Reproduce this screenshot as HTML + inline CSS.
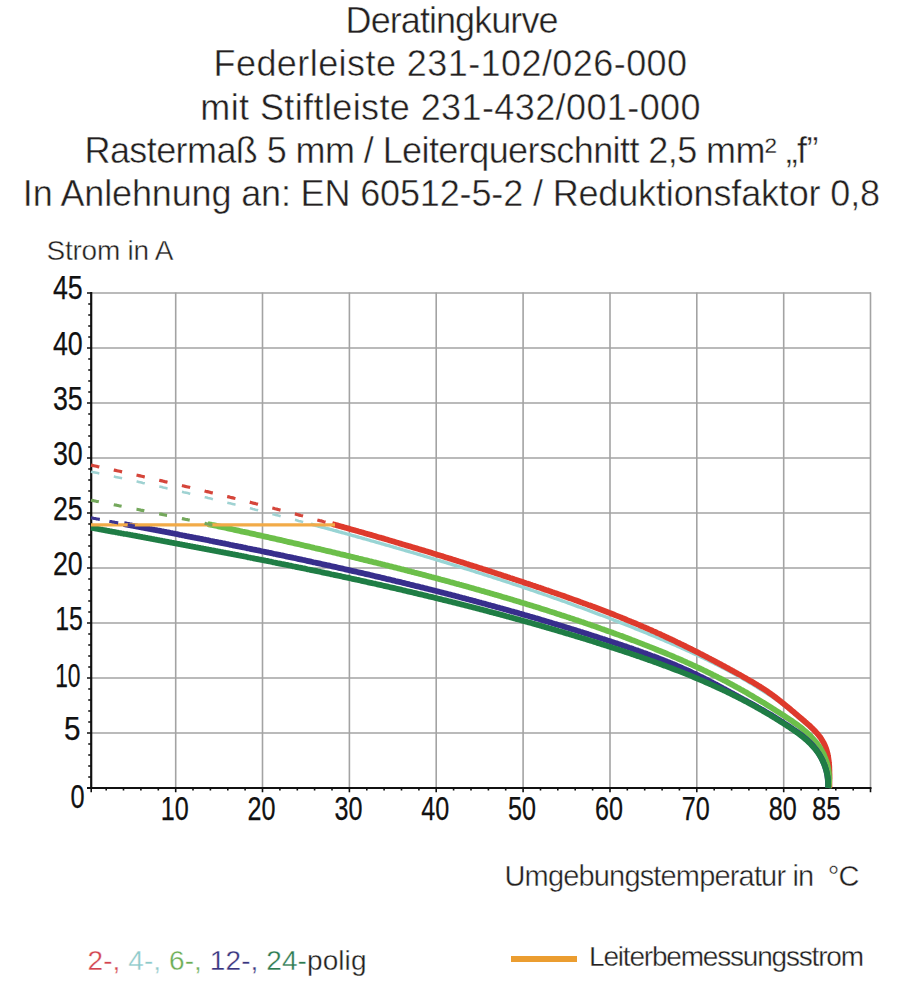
<!DOCTYPE html><html><head><meta charset="utf-8"><style>html,body{margin:0;padding:0;background:#fff;width:903px;height:1000px;overflow:hidden}svg{display:block}text{font-family:"Liberation Sans",sans-serif}</style></head><body>
<svg width="903" height="1000" viewBox="0 0 903 1000">
<g fill="#231f20" stroke="#fff" stroke-width="0.45" font-size="36">
<text x="345.6" y="33.2" textLength="212.9" lengthAdjust="spacing">Deratingkurve</text>
<text x="213.5" y="76.4" textLength="473.6" lengthAdjust="spacing">Federleiste 231-102/026-000</text>
<text x="200.3" y="119.5" textLength="500.2" lengthAdjust="spacing">mit Stiftleiste 231-432/001-000</text>
<text x="84.5" y="162.7" textLength="734.0" lengthAdjust="spacing">Rastermaß 5 mm / Leiterquerschnitt 2,5 mm² „f”</text>
<text x="22.8" y="205.9" textLength="857.3" lengthAdjust="spacing">In Anlehnung an: EN 60512-5-2 / Reduktionsfaktor 0,8</text>
</g>
<text x="46.5" y="259.9" font-size="28" fill="#231f20" stroke="#fff" stroke-width="0.4" textLength="127" lengthAdjust="spacing">Strom in A</text>
<g stroke="#a3a3a3" stroke-width="1.6" fill="none">
<line x1="91" y1="733.0" x2="871" y2="733.0"/>
<line x1="91" y1="678.0" x2="871" y2="678.0"/>
<line x1="91" y1="623.0" x2="871" y2="623.0"/>
<line x1="91" y1="568.0" x2="871" y2="568.0"/>
<line x1="91" y1="513.0" x2="871" y2="513.0"/>
<line x1="91" y1="458.0" x2="871" y2="458.0"/>
<line x1="91" y1="403.0" x2="871" y2="403.0"/>
<line x1="91" y1="348.0" x2="871" y2="348.0"/>
<line x1="91" y1="293.0" x2="871" y2="293.0"/>
<line x1="175.7" y1="292.6" x2="175.7" y2="788"/>
<line x1="262.5" y1="292.6" x2="262.5" y2="788"/>
<line x1="349.4" y1="292.6" x2="349.4" y2="788"/>
<line x1="436.2" y1="292.6" x2="436.2" y2="788"/>
<line x1="523.1" y1="292.6" x2="523.1" y2="788"/>
<line x1="610.0" y1="292.6" x2="610.0" y2="788"/>
<line x1="696.8" y1="292.6" x2="696.8" y2="788"/>
<line x1="783.7" y1="292.6" x2="783.7" y2="788"/>
<line x1="870.5" y1="292.6" x2="870.5" y2="788"/>
</g>
<g stroke="#111" fill="none">
<line x1="91.2" y1="292" x2="91.2" y2="789" stroke-width="2.2"/>
<line x1="87" y1="788" x2="871.5" y2="788" stroke-width="2.2"/>
<path d="M87.0,788.0H91.2M88.2,777.0H91.2M88.2,766.0H91.2M88.2,755.0H91.2M88.2,744.0H91.2M87.0,733.0H91.2M88.2,722.0H91.2M88.2,711.0H91.2M88.2,700.0H91.2M88.2,689.0H91.2M87.0,678.0H91.2M88.2,667.0H91.2M88.2,656.0H91.2M88.2,645.0H91.2M88.2,634.0H91.2M87.0,623.0H91.2M88.2,612.0H91.2M88.2,601.0H91.2M88.2,590.0H91.2M88.2,579.0H91.2M87.0,568.0H91.2M88.2,557.0H91.2M88.2,546.0H91.2M88.2,535.0H91.2M88.2,524.0H91.2M87.0,513.0H91.2M88.2,502.0H91.2M88.2,491.0H91.2M88.2,480.0H91.2M88.2,469.0H91.2M87.0,458.0H91.2M88.2,447.0H91.2M88.2,436.0H91.2M88.2,425.0H91.2M88.2,414.0H91.2M87.0,403.0H91.2M88.2,392.0H91.2M88.2,381.0H91.2M88.2,370.0H91.2M88.2,359.0H91.2M87.0,348.0H91.2M88.2,337.0H91.2M88.2,326.0H91.2M88.2,315.0H91.2M88.2,304.0H91.2M87.0,293.0H91.2M91.2,788V792.2M106.2,788V790.6M123.5,788V790.6M140.9,788V790.6M158.3,788V790.6M175.7,788V792.2M193.0,788V790.6M210.4,788V790.6M227.8,788V790.6M245.1,788V790.6M262.5,788V792.2M279.9,788V790.6M297.3,788V790.6M314.6,788V790.6M332.0,788V790.6M349.4,788V792.2M366.8,788V790.6M384.1,788V790.6M401.5,788V790.6M418.9,788V790.6M436.2,788V792.2M453.6,788V790.6M471.0,788V790.6M488.4,788V790.6M505.7,788V790.6M523.1,788V792.2M540.5,788V790.6M557.8,788V790.6M575.2,788V790.6M592.6,788V790.6M610.0,788V792.2M627.3,788V790.6M644.7,788V790.6M662.1,788V790.6M679.4,788V790.6M696.8,788V792.2M714.2,788V790.6M731.6,788V790.6M748.9,788V790.6M766.3,788V790.6M783.7,788V792.2M801.1,788V790.6M818.4,788V790.6M835.8,788V790.6M853.2,788V790.6M870.5,788V792.2" stroke-width="1.6"/>
</g>
<g fill="none" stroke-linecap="butt" stroke-linejoin="round">
<path d="M310.5,524.0L310.8,524.1L312.1,524.4L313.5,524.8L314.8,525.2L316.2,525.5L317.5,525.9L318.9,526.3L320.2,526.6L321.6,527.0L322.9,527.3L324.3,527.7L325.6,528.1L327.0,528.4L328.3,528.8L329.6,529.2L331.0,529.5L332.3,529.9L333.7,530.3L335.0,530.6L336.4,531.0L337.7,531.4L339.1,531.8L340.4,532.1L341.8,532.5L343.1,532.9L344.4,533.2L345.8,533.6L347.1,534.0L348.5,534.4L349.8,534.7L351.2,535.1L352.5,535.5L353.9,535.8L355.2,536.2L356.5,536.6L357.9,537.0L359.2,537.4L360.6,537.7L361.9,538.1L363.3,538.5L364.6,538.9L365.9,539.2L367.3,539.6L368.6,540.0L370.0,540.4L371.3,540.8L372.7,541.1L374.0,541.5L375.3,541.9L376.7,542.3L378.0,542.7L379.4,543.0L380.7,543.4L382.0,543.8L383.4,544.2L384.7,544.6L386.1,545.0L387.4,545.3L388.8,545.7L390.1,546.1L391.4,546.5L392.8,546.9L394.1,547.3L395.5,547.7L396.8,548.1L398.1,548.4L399.5,548.8L400.8,549.2L402.2,549.6L403.5,550.0L404.8,550.4L406.2,550.8L407.5,551.2L408.9,551.6L410.2,552.0L411.5,552.4L412.9,552.7L414.2,553.1L415.5,553.5L416.9,553.9L418.2,554.3L419.6,554.7L420.9,555.1L422.2,555.5L423.6,555.9L424.9,556.3L426.2,556.7L427.6,557.1L428.9,557.5L430.3,557.9L431.6,558.3L432.9,558.7L434.3,559.1L435.6,559.5L436.9,559.9L438.3,560.3L439.6,560.7L440.9,561.1L442.3,561.5L443.6,561.9L445.0,562.3L446.3,562.7L447.6,563.2L449.0,563.6L450.3,564.0L451.6,564.4L453.0,564.8L454.3,565.2L455.6,565.6L457.0,566.0L458.3,566.4L459.6,566.8L461.0,567.3L462.3,567.7L463.6,568.1L465.0,568.5L466.3,568.9L467.6,569.3L468.9,569.7L470.3,570.2L471.6,570.6L472.9,571.0L474.3,571.4L475.6,571.8L476.9,572.3L478.3,572.7L479.6,573.1L480.9,573.5L482.3,573.9L483.6,574.4L484.9,574.8L486.2,575.2L487.6,575.6L488.9,576.1L490.2,576.5L491.6,576.9L492.9,577.3L494.2,577.8L495.5,578.2L496.9,578.6L498.2,579.1L499.5,579.5L500.8,579.9L502.2,580.4L503.5,580.8L504.8,581.2L506.1,581.7L507.5,582.1L508.8,582.5L510.1,583.0L511.4,583.4L512.8,583.8L514.1,584.3L515.4,584.7L516.7,585.2L518.1,585.6L519.4,586.0L520.7,586.5L522.0,586.9L523.4,587.4L524.7,587.8L526.0,588.3L527.3,588.7L528.6,589.2L530.0,589.6L531.3,590.1L532.6,590.5L533.9,591.0L535.2,591.4L536.6,591.9L537.9,592.3L539.2,592.8L540.5,593.2L541.8,593.7L543.2,594.1L544.5,594.6L545.8,595.0L547.1,595.5L548.4,596.0L549.7,596.4L551.1,596.9L552.4,597.4L553.7,597.8L555.0,598.3L556.3,598.7L557.6,599.2L558.9,599.7L560.3,600.1L561.6,600.6L562.9,601.1L564.2,601.5L565.5,602.0L566.8,602.5L568.1,603.0L569.5,603.4L570.8,603.9L572.1,604.4L573.4,604.9L574.7,605.3L576.0,605.8L577.3,606.3L578.6,606.8L579.9,607.2L581.2,607.7L582.6,608.2L583.9,608.7L585.2,609.2L586.5,609.7L587.8,610.1L589.1,610.6L590.4,611.1L591.7,611.6L593.0,612.1L594.3,612.6L595.6,613.1L596.9,613.6L598.2,614.1L599.5,614.6L600.9,615.1L602.2,615.5L603.5,616.0L604.8,616.5L606.1,617.0L607.4,617.5L608.7,618.0L610.0,618.5L611.3,619.0L612.6,619.5L613.9,620.1L615.2,620.6L616.5,621.1L617.8,621.6L619.1,622.1L620.4,622.6L621.7,623.1L623.0,623.6L624.3,624.1L625.6,624.6L626.9,625.2L628.2,625.7L629.5,626.2L630.8,626.7L632.1,627.2L633.3,627.7L634.6,628.3L635.9,628.8L637.2,629.3L638.5,629.8L639.8,630.4L641.1,630.9L642.4,631.4L643.7,631.9L645.0,632.5L646.3,633.0L647.6,633.5L648.9,634.1L650.2,634.6L651.4,635.1L652.7,635.7L654.0,636.2L655.3,636.7L656.6,637.3L657.9,637.8L659.2,638.4L660.5,638.9L661.7,639.5L663.0,640.0L664.3,640.5L665.6,641.1L666.9,641.6L668.2,642.2L669.5,642.7L670.7,643.3L672.0,643.9L673.3,644.4L674.6,645.0L675.9,645.5L677.1,646.1L678.4,646.7L679.7,647.2L681.0,647.8L682.2,648.4L683.5,648.9L684.8,649.5L686.1,650.1L687.3,650.7L688.6,651.2L689.9,651.8L691.1,652.4L692.4,653.0L693.7,653.6L694.9,654.2L696.2,654.7L697.5,655.3L698.7,655.9L700.0,656.5L701.3,657.1L702.5,657.7L703.8,658.3L705.0,658.9L706.3,659.5L707.5,660.1L708.8,660.8L710.1,661.4L711.3,662.0L712.6,662.6L713.8,663.2L715.0,663.9L716.3,664.5L717.5,665.1L718.8,665.7L720.0,666.4L721.3,667.0L722.5,667.7L723.7,668.3L725.0,668.9L726.2,669.6L727.4,670.2L728.7,670.9L729.9,671.6L731.1,672.2L732.3,672.9L733.6,673.6L734.8,674.2L736.0,674.9L737.2,675.6L738.4,676.2L739.7,676.9L740.9,677.6L742.1,678.3L743.3,679.0L744.5,679.7L745.7,680.4L746.9,681.1L748.1,681.8L749.3,682.5L750.5,683.2L751.7,683.9L752.9,684.6L754.1,685.4L755.3,686.1L756.5,686.8L757.7,687.5L758.8,688.3L760.0,689.0L761.2,689.8L762.4,690.5L763.5,691.3L764.7,692.0L765.9,692.8L767.1,693.5L768.2,694.3L769.4,695.1L770.6,695.8L771.7,696.6L772.9,697.4L774.0,698.2L775.2,699.0L776.3,699.8L777.4,700.6L778.6,701.4L779.7,702.2L780.8,703.1L781.9,703.9L783.0,704.8L784.1,705.6L785.2,706.5L786.3,707.3L787.4,708.2L788.4,709.1L789.5,710.0L790.6,710.9L791.6,711.8L792.7,712.7L793.7,713.6L794.8,714.5L795.9,715.4L796.9,716.3L798.0,717.3L799.0,718.2L800.1,719.1L801.2,720.0L802.3,720.9L803.3,721.8L804.4,722.7L805.5,723.6L806.6,724.5L807.6,725.4L808.7,726.3L809.7,727.3L810.8,728.2L811.8,729.2L812.9,730.1L813.9,731.1L814.9,732.1L815.8,733.0L816.8,734.1L817.7,735.1L818.6,736.1L819.5,737.2L820.3,738.3L821.1,739.4L821.9,740.5L822.6,741.6L823.3,742.8L823.9,744.0L824.5,745.2L825.1,746.5L825.6,747.8L826.1,749.0L826.5,750.3L826.9,751.7L827.3,753.0L827.6,754.4L827.9,755.8L828.1,757.1L828.3,758.5L828.5,760.0L828.7,761.4L828.8,762.8L829.0,764.2L829.1,765.7L829.1,767.1L829.2,768.6L829.2,770.0L829.3,771.4L829.3,772.9L829.3,774.3L829.3,775.7L829.3,777.1L829.3,778.6L829.3,779.9L829.3,781.3L829.3,782.7L829.3,784.1L829.3,785.4L829.4,786.7L829.4,788.0" stroke="#98d4d4" stroke-width="3.4"/>
<path d="M332.1,524.0L333.1,524.3L334.5,524.7L335.8,525.0L337.2,525.4L338.5,525.8L339.9,526.2L341.2,526.5L342.6,526.9L343.9,527.3L345.3,527.7L346.6,528.0L348.0,528.4L349.3,528.8L350.7,529.2L352.0,529.6L353.4,529.9L354.7,530.3L356.1,530.7L357.4,531.1L358.8,531.5L360.1,531.8L361.5,532.2L362.8,532.6L364.2,533.0L365.5,533.4L366.8,533.8L368.2,534.2L369.5,534.5L370.9,534.9L372.2,535.3L373.6,535.7L374.9,536.1L376.3,536.5L377.6,536.9L379.0,537.3L380.3,537.6L381.6,538.0L383.0,538.4L384.3,538.8L385.7,539.2L387.0,539.6L388.4,540.0L389.7,540.4L391.1,540.8L392.4,541.2L393.7,541.6L395.1,542.0L396.4,542.4L397.8,542.8L399.1,543.2L400.5,543.6L401.8,544.0L403.1,544.4L404.5,544.8L405.8,545.2L407.2,545.6L408.5,546.0L409.9,546.4L411.2,546.8L412.5,547.2L413.9,547.6L415.2,548.0L416.6,548.4L417.9,548.8L419.2,549.2L420.6,549.6L421.9,550.0L423.3,550.4L424.6,550.8L426.0,551.2L427.3,551.6L428.6,552.0L430.0,552.4L431.3,552.8L432.7,553.3L434.0,553.7L435.3,554.1L436.7,554.5L438.0,554.9L439.3,555.3L440.7,555.7L442.0,556.1L443.4,556.6L444.7,557.0L446.0,557.4L447.4,557.8L448.7,558.2L450.1,558.6L451.4,559.0L452.7,559.5L454.1,559.9L455.4,560.3L456.7,560.7L458.1,561.1L459.4,561.6L460.7,562.0L462.1,562.4L463.4,562.8L464.8,563.2L466.1,563.7L467.4,564.1L468.8,564.5L470.1,564.9L471.4,565.4L472.8,565.8L474.1,566.2L475.4,566.6L476.8,567.1L478.1,567.5L479.4,567.9L480.8,568.3L482.1,568.8L483.4,569.2L484.8,569.6L486.1,570.0L487.4,570.5L488.8,570.9L490.1,571.3L491.4,571.8L492.8,572.2L494.1,572.6L495.4,573.1L496.8,573.5L498.1,573.9L499.4,574.4L500.8,574.8L502.1,575.2L503.4,575.7L504.8,576.1L506.1,576.5L507.4,577.0L508.8,577.4L510.1,577.9L511.4,578.3L512.8,578.7L514.1,579.2L515.4,579.6L516.7,580.1L518.1,580.5L519.4,580.9L520.7,581.4L522.1,581.8L523.4,582.3L524.7,582.7L526.0,583.2L527.4,583.6L528.7,584.0L530.0,584.5L531.4,584.9L532.7,585.4L534.0,585.8L535.3,586.3L536.7,586.7L538.0,587.2L539.3,587.6L540.7,588.1L542.0,588.5L543.3,589.0L544.6,589.4L546.0,589.9L547.3,590.3L548.6,590.8L549.9,591.2L551.3,591.7L552.6,592.2L553.9,592.6L555.2,593.1L556.6,593.5L557.9,594.0L559.2,594.4L560.5,594.9L561.8,595.4L563.2,595.8L564.5,596.3L565.8,596.8L567.1,597.2L568.5,597.7L569.8,598.2L571.1,598.6L572.4,599.1L573.7,599.6L575.0,600.1L576.4,600.5L577.7,601.0L579.0,601.5L580.3,602.0L581.6,602.4L582.9,602.9L584.3,603.4L585.6,603.9L586.9,604.4L588.2,604.9L589.5,605.3L590.8,605.8L592.1,606.3L593.5,606.8L594.8,607.3L596.1,607.8L597.4,608.3L598.7,608.8L600.0,609.3L601.3,609.8L602.6,610.3L603.9,610.8L605.2,611.3L606.5,611.8L607.8,612.3L609.1,612.8L610.5,613.3L611.8,613.8L613.1,614.3L614.4,614.8L615.7,615.4L617.0,615.9L618.3,616.4L619.6,616.9L620.9,617.4L622.2,618.0L623.5,618.5L624.8,619.0L626.1,619.5L627.3,620.1L628.6,620.6L629.9,621.1L631.2,621.7L632.5,622.2L633.8,622.8L635.1,623.3L636.4,623.8L637.7,624.4L639.0,624.9L640.3,625.5L641.5,626.0L642.8,626.6L644.1,627.1L645.4,627.7L646.7,628.3L648.0,628.8L649.3,629.4L650.5,629.9L651.8,630.5L653.1,631.1L654.4,631.6L655.7,632.2L656.9,632.8L658.2,633.4L659.5,633.9L660.8,634.5L662.0,635.1L663.3,635.7L664.6,636.3L665.8,636.9L667.1,637.5L668.4,638.1L669.7,638.7L670.9,639.2L672.2,639.8L673.5,640.4L674.7,641.0L676.0,641.7L677.2,642.3L678.5,642.9L679.8,643.5L681.0,644.1L682.3,644.7L683.6,645.3L684.8,645.9L686.1,646.6L687.3,647.2L688.6,647.8L689.8,648.4L691.1,649.0L692.3,649.7L693.6,650.3L694.9,650.9L696.1,651.6L697.4,652.2L698.6,652.8L699.9,653.5L701.1,654.1L702.3,654.7L703.6,655.4L704.8,656.0L706.1,656.7L707.3,657.3L708.6,658.0L709.8,658.6L711.1,659.3L712.3,659.9L713.5,660.6L714.8,661.2L716.0,661.9L717.3,662.6L718.5,663.2L719.7,663.9L721.0,664.5L722.2,665.2L723.4,665.9L724.7,666.5L725.9,667.2L727.1,667.9L728.4,668.5L729.6,669.2L730.8,669.9L732.1,670.6L733.3,671.2L734.5,671.9L735.7,672.6L737.0,673.3L738.2,674.0L739.4,674.6L740.6,675.3L741.9,676.0L743.1,676.7L744.3,677.4L745.5,678.1L746.7,678.8L748.0,679.5L749.2,680.2L750.4,680.9L751.6,681.6L752.8,682.3L754.0,683.0L755.2,683.7L756.4,684.4L757.6,685.2L758.8,685.9L760.0,686.6L761.1,687.4L762.3,688.1L763.5,688.9L764.7,689.7L765.8,690.4L767.0,691.2L768.1,692.0L769.3,692.8L770.4,693.6L771.5,694.4L772.7,695.2L773.8,696.1L774.9,696.9L776.0,697.7L777.1,698.6L778.2,699.4L779.3,700.3L780.4,701.2L781.5,702.0L782.6,702.9L783.7,703.8L784.8,704.7L785.8,705.5L786.9,706.4L788.0,707.3L789.1,708.2L790.2,709.1L791.2,710.0L792.3,710.9L793.4,711.8L794.5,712.7L795.5,713.7L796.6,714.6L797.7,715.5L798.8,716.4L799.8,717.3L800.9,718.2L802.0,719.1L803.1,720.1L804.2,721.0L805.2,721.9L806.3,722.8L807.4,723.8L808.4,724.7L809.5,725.6L810.5,726.6L811.5,727.6L812.5,728.5L813.5,729.5L814.5,730.5L815.4,731.5L816.4,732.6L817.3,733.6L818.2,734.7L819.0,735.7L819.9,736.8L820.7,737.9L821.4,739.1L822.1,740.2L822.8,741.4L823.5,742.6L824.1,743.8L824.7,745.0L825.2,746.3L825.7,747.6L826.2,748.9L826.6,750.2L827.0,751.5L827.3,752.9L827.7,754.2L827.9,755.6L828.2,757.0L828.4,758.4L828.6,759.8L828.8,761.2L828.9,762.7L829.1,764.1L829.2,765.5L829.3,767.0L829.3,768.4L829.4,769.9L829.4,771.3L829.4,772.8L829.5,774.2L829.5,775.6L829.5,777.0L829.5,778.5L829.4,779.9L829.4,781.3L829.4,782.6L829.4,784.0L829.4,785.3L829.4,786.7L829.4,788.0" stroke="#de3a2c" stroke-width="5.8"/>
<path d="M207.7,524.0L209.0,524.3L210.4,524.6L211.7,524.9L213.1,525.1L214.4,525.4L215.7,525.7L217.1,526.0L218.4,526.3L219.7,526.6L221.1,526.9L222.4,527.2L223.8,527.5L225.1,527.7L226.4,528.0L227.8,528.3L229.1,528.6L230.4,528.9L231.8,529.2L233.1,529.5L234.5,529.8L235.8,530.1L237.1,530.4L238.5,530.7L239.8,531.0L241.1,531.3L242.5,531.6L243.8,531.8L245.2,532.1L246.5,532.4L247.8,532.7L249.2,533.0L250.5,533.3L251.8,533.6L253.2,533.9L254.5,534.2L255.8,534.5L257.2,534.8L258.5,535.1L259.9,535.4L261.2,535.7L262.5,536.0L263.9,536.3L265.2,536.6L266.5,536.9L267.9,537.2L269.2,537.5L270.5,537.8L271.9,538.1L273.2,538.4L274.6,538.7L275.9,539.0L277.2,539.3L278.6,539.6L279.9,539.9L281.2,540.2L282.6,540.5L283.9,540.8L285.2,541.2L286.6,541.5L287.9,541.8L289.2,542.1L290.6,542.4L291.9,542.7L293.2,543.0L294.6,543.3L295.9,543.6L297.2,543.9L298.6,544.2L299.9,544.5L301.2,544.8L302.6,545.2L303.9,545.5L305.2,545.8L306.6,546.1L307.9,546.4L309.2,546.7L310.6,547.0L311.9,547.3L313.2,547.6L314.6,548.0L315.9,548.3L317.2,548.6L318.6,548.9L319.9,549.2L321.2,549.5L322.6,549.8L323.9,550.2L325.2,550.5L326.6,550.8L327.9,551.1L329.2,551.4L330.6,551.7L331.9,552.0L333.2,552.4L334.6,552.7L335.9,553.0L337.2,553.3L338.6,553.6L339.9,554.0L341.2,554.3L342.6,554.6L343.9,554.9L345.2,555.2L346.5,555.6L347.9,555.9L349.2,556.2L350.5,556.5L351.9,556.8L353.2,557.2L354.5,557.5L355.9,557.8L357.2,558.1L358.5,558.5L359.9,558.8L361.2,559.1L362.5,559.4L363.8,559.8L365.2,560.1L366.5,560.4L367.8,560.7L369.2,561.1L370.5,561.4L371.8,561.7L373.1,562.1L374.5,562.4L375.8,562.7L377.1,563.0L378.5,563.4L379.8,563.7L381.1,564.0L382.5,564.4L383.8,564.7L385.1,565.0L386.4,565.4L387.8,565.7L389.1,566.0L390.4,566.4L391.7,566.7L393.1,567.0L394.4,567.4L395.7,567.7L397.1,568.0L398.4,568.4L399.7,568.7L401.0,569.1L402.4,569.4L403.7,569.7L405.0,570.1L406.3,570.4L407.7,570.8L409.0,571.1L410.3,571.4L411.7,571.8L413.0,572.1L414.3,572.5L415.6,572.8L417.0,573.2L418.3,573.5L419.6,573.8L420.9,574.2L422.3,574.5L423.6,574.9L424.9,575.2L426.2,575.6L427.6,575.9L428.9,576.3L430.2,576.6L431.5,577.0L432.8,577.3L434.2,577.7L435.5,578.0L436.8,578.4L438.1,578.7L439.5,579.1L440.8,579.5L442.1,579.8L443.4,580.2L444.7,580.5L446.1,580.9L447.4,581.2L448.7,581.6L450.0,582.0L451.4,582.3L452.7,582.7L454.0,583.0L455.3,583.4L456.6,583.8L458.0,584.1L459.3,584.5L460.6,584.8L461.9,585.2L463.2,585.6L464.6,585.9L465.9,586.3L467.2,586.7L468.5,587.0L469.8,587.4L471.1,587.8L472.5,588.2L473.8,588.5L475.1,588.9L476.4,589.3L477.7,589.6L479.1,590.0L480.4,590.4L481.7,590.8L483.0,591.1L484.3,591.5L485.6,591.9L487.0,592.3L488.3,592.7L489.6,593.0L490.9,593.4L492.2,593.8L493.5,594.2L494.8,594.6L496.2,594.9L497.5,595.3L498.8,595.7L500.1,596.1L501.4,596.5L502.7,596.9L504.0,597.3L505.3,597.6L506.7,598.0L508.0,598.4L509.3,598.8L510.6,599.2L511.9,599.6L513.2,600.0L514.5,600.4L515.8,600.8L517.2,601.2L518.5,601.6L519.8,602.0L521.1,602.4L522.4,602.8L523.7,603.2L525.0,603.6L526.3,604.0L527.6,604.4L528.9,604.8L530.2,605.2L531.5,605.6L532.9,606.0L534.2,606.4L535.5,606.8L536.8,607.2L538.1,607.6L539.4,608.0L540.7,608.5L542.0,608.9L543.3,609.3L544.6,609.7L545.9,610.1L547.2,610.5L548.5,610.9L549.8,611.4L551.1,611.8L552.4,612.2L553.7,612.6L555.0,613.0L556.3,613.5L557.6,613.9L558.9,614.3L560.2,614.7L561.5,615.2L562.9,615.6L564.2,616.0L565.5,616.4L566.8,616.9L568.1,617.3L569.4,617.7L570.6,618.2L571.9,618.6L573.2,619.0L574.5,619.5L575.8,619.9L577.1,620.3L578.4,620.8L579.7,621.2L581.0,621.7L582.3,622.1L583.6,622.5L584.9,623.0L586.2,623.4L587.5,623.9L588.8,624.3L590.1,624.8L591.4,625.2L592.7,625.7L594.0,626.1L595.3,626.6L596.6,627.0L597.9,627.5L599.2,627.9L600.4,628.4L601.7,628.9L603.0,629.3L604.3,629.8L605.6,630.2L606.9,630.7L608.2,631.2L609.5,631.6L610.8,632.1L612.1,632.5L613.3,633.0L614.6,633.5L615.9,634.0L617.2,634.4L618.5,634.9L619.8,635.4L621.1,635.8L622.4,636.3L623.6,636.8L624.9,637.3L626.2,637.7L627.5,638.2L628.8,638.7L630.1,639.2L631.3,639.7L632.6,640.2L633.9,640.6L635.2,641.1L636.5,641.6L637.7,642.1L639.0,642.6L640.3,643.1L641.6,643.6L642.9,644.1L644.1,644.6L645.4,645.1L646.7,645.6L648.0,646.1L649.2,646.6L650.5,647.1L651.8,647.6L653.1,648.1L654.3,648.6L655.6,649.2L656.9,649.7L658.1,650.2L659.4,650.7L660.7,651.2L661.9,651.7L663.2,652.3L664.5,652.8L665.7,653.3L667.0,653.8L668.3,654.4L669.5,654.9L670.8,655.4L672.0,656.0L673.3,656.5L674.6,657.1L675.8,657.6L677.1,658.1L678.3,658.7L679.6,659.2L680.8,659.8L682.1,660.3L683.3,660.9L684.6,661.4L685.8,662.0L687.1,662.6L688.3,663.1L689.6,663.7L690.8,664.2L692.1,664.8L693.3,665.4L694.6,666.0L695.8,666.5L697.0,667.1L698.3,667.7L699.5,668.3L700.7,668.8L702.0,669.4L703.2,670.0L704.4,670.6L705.7,671.2L706.9,671.8L708.1,672.4L709.4,673.0L710.6,673.6L711.8,674.2L713.0,674.8L714.3,675.4L715.5,676.0L716.7,676.6L717.9,677.3L719.1,677.9L720.4,678.5L721.6,679.1L722.8,679.7L724.0,680.4L725.2,681.0L726.4,681.6L727.6,682.3L728.8,682.9L730.0,683.6L731.2,684.2L732.4,684.8L733.6,685.5L734.8,686.2L736.0,686.8L737.2,687.5L738.4,688.1L739.6,688.8L740.8,689.5L742.0,690.1L743.2,690.8L744.4,691.5L745.6,692.1L746.8,692.8L747.9,693.5L749.1,694.2L750.3,694.9L751.5,695.6L752.7,696.3L753.8,697.0L755.0,697.7L756.2,698.4L757.4,699.1L758.5,699.8L759.7,700.5L760.9,701.2L762.1,701.9L763.2,702.6L764.4,703.3L765.6,704.0L766.7,704.8L767.9,705.5L769.1,706.2L770.2,706.9L771.4,707.7L772.5,708.4L773.7,709.1L774.9,709.9L776.0,710.6L777.2,711.4L778.3,712.1L779.5,712.8L780.7,713.6L781.8,714.3L783.0,715.1L784.1,715.8L785.3,716.6L786.4,717.4L787.6,718.1L788.8,718.9L789.9,719.6L791.1,720.4L792.2,721.2L793.3,722.0L794.5,722.8L795.6,723.6L796.7,724.4L797.8,725.2L798.9,726.0L800.0,726.9L801.1,727.7L802.2,728.6L803.2,729.5L804.3,730.4L805.3,731.3L806.4,732.2L807.4,733.1L808.4,734.0L809.4,735.0L810.3,735.9L811.3,736.9L812.2,737.9L813.1,738.9L814.0,739.9L814.9,740.9L815.8,741.9L816.6,743.0L817.4,744.1L818.2,745.1L819.0,746.2L819.7,747.3L820.4,748.5L821.1,749.6L821.8,750.8L822.4,751.9L823.1,753.1L823.7,754.3L824.2,755.5L824.7,756.8L825.2,758.0L825.7,759.3L826.2,760.5L826.6,761.8L827.0,763.1L827.3,764.4L827.6,765.7L827.9,767.1L828.2,768.4L828.4,769.8L828.6,771.1L828.8,772.5L828.9,773.9L829.0,775.3L829.1,776.7L829.2,778.1L829.2,779.5L829.2,780.9L829.1,782.3L829.0,783.7L828.9,785.1L828.8,786.6L828.6,788.0" stroke="#6cbf4a" stroke-width="5.8"/>
<path d="M123.9,524.0L124.2,524.1L125.5,524.3L126.8,524.6L128.1,524.8L129.5,525.1L130.8,525.3L132.1,525.6L133.5,525.8L134.8,526.1L136.1,526.3L137.4,526.6L138.8,526.8L140.1,527.1L141.4,527.3L142.7,527.6L144.1,527.8L145.4,528.1L146.7,528.4L148.1,528.6L149.4,528.9L150.7,529.1L152.0,529.4L153.4,529.6L154.7,529.9L156.0,530.1L157.3,530.4L158.7,530.6L160.0,530.9L161.3,531.2L162.6,531.4L164.0,531.7L165.3,531.9L166.6,532.2L168.0,532.4L169.3,532.7L170.6,533.0L171.9,533.2L173.3,533.5L174.6,533.7L175.9,534.0L177.2,534.2L178.6,534.5L179.9,534.8L181.2,535.0L182.6,535.3L183.9,535.5L185.2,535.8L186.5,536.1L187.9,536.3L189.2,536.6L190.5,536.8L191.8,537.1L193.2,537.4L194.5,537.6L195.8,537.9L197.1,538.1L198.5,538.4L199.8,538.7L201.1,538.9L202.4,539.2L203.8,539.5L205.1,539.7L206.4,540.0L207.8,540.2L209.1,540.5L210.4,540.8L211.7,541.0L213.1,541.3L214.4,541.6L215.7,541.8L217.0,542.1L218.4,542.4L219.7,542.6L221.0,542.9L222.3,543.2L223.7,543.4L225.0,543.7L226.3,544.0L227.6,544.2L229.0,544.5L230.3,544.8L231.6,545.0L232.9,545.3L234.3,545.6L235.6,545.8L236.9,546.1L238.2,546.4L239.6,546.6L240.9,546.9L242.2,547.2L243.5,547.5L244.9,547.7L246.2,548.0L247.5,548.3L248.8,548.5L250.2,548.8L251.5,549.1L252.8,549.4L254.1,549.6L255.5,549.9L256.8,550.2L258.1,550.4L259.4,550.7L260.8,551.0L262.1,551.3L263.4,551.5L264.7,551.8L266.0,552.1L267.4,552.4L268.7,552.7L270.0,552.9L271.3,553.2L272.7,553.5L274.0,553.8L275.3,554.0L276.6,554.3L278.0,554.6L279.3,554.9L280.6,555.2L281.9,555.4L283.2,555.7L284.6,556.0L285.9,556.3L287.2,556.6L288.5,556.8L289.9,557.1L291.2,557.4L292.5,557.7L293.8,558.0L295.1,558.2L296.5,558.5L297.8,558.8L299.1,559.1L300.4,559.4L301.8,559.7L303.1,560.0L304.4,560.2L305.7,560.5L307.0,560.8L308.4,561.1L309.7,561.4L311.0,561.7L312.3,562.0L313.6,562.3L315.0,562.5L316.3,562.8L317.6,563.1L318.9,563.4L320.2,563.7L321.6,564.0L322.9,564.3L324.2,564.6L325.5,564.9L326.8,565.2L328.2,565.4L329.5,565.7L330.8,566.0L332.1,566.3L333.4,566.6L334.8,566.9L336.1,567.2L337.4,567.5L338.7,567.8L340.0,568.1L341.4,568.4L342.7,568.7L344.0,569.0L345.3,569.3L346.6,569.6L347.9,569.9L349.3,570.2L350.6,570.5L351.9,570.8L353.2,571.1L354.5,571.4L355.9,571.7L357.2,572.0L358.5,572.3L359.8,572.6L361.1,572.9L362.4,573.2L363.8,573.5L365.1,573.8L366.4,574.1L367.7,574.4L369.0,574.7L370.3,575.0L371.7,575.3L373.0,575.7L374.3,576.0L375.6,576.3L376.9,576.6L378.2,576.9L379.6,577.2L380.9,577.5L382.2,577.8L383.5,578.1L384.8,578.4L386.1,578.8L387.4,579.1L388.8,579.4L390.1,579.7L391.4,580.0L392.7,580.3L394.0,580.6L395.3,581.0L396.6,581.3L398.0,581.6L399.3,581.9L400.6,582.2L401.9,582.5L403.2,582.9L404.5,583.2L405.8,583.5L407.1,583.8L408.5,584.1L409.8,584.5L411.1,584.8L412.4,585.1L413.7,585.4L415.0,585.8L416.3,586.1L417.6,586.4L419.0,586.7L420.3,587.1L421.6,587.4L422.9,587.7L424.2,588.0L425.5,588.4L426.8,588.7L428.1,589.0L429.4,589.3L430.8,589.7L432.1,590.0L433.4,590.3L434.7,590.7L436.0,591.0L437.3,591.3L438.6,591.7L439.9,592.0L441.2,592.3L442.5,592.7L443.9,593.0L445.2,593.3L446.5,593.7L447.8,594.0L449.1,594.4L450.4,594.7L451.7,595.0L453.0,595.4L454.3,595.7L455.6,596.0L456.9,596.4L458.2,596.7L459.5,597.1L460.9,597.4L462.2,597.8L463.5,598.1L464.8,598.4L466.1,598.8L467.4,599.1L468.7,599.5L470.0,599.8L471.3,600.2L472.6,600.5L473.9,600.9L475.2,601.2L476.5,601.6L477.8,601.9L479.1,602.3L480.4,602.6L481.7,603.0L483.0,603.3L484.4,603.7L485.7,604.0L487.0,604.4L488.3,604.8L489.6,605.1L490.9,605.5L492.2,605.8L493.5,606.2L494.8,606.5L496.1,606.9L497.4,607.3L498.7,607.6L500.0,608.0L501.3,608.3L502.6,608.7L503.9,609.1L505.2,609.4L506.5,609.8L507.8,610.2L509.1,610.5L510.4,610.9L511.7,611.3L513.0,611.6L514.3,612.0L515.6,612.4L516.9,612.7L518.2,613.1L519.5,613.5L520.8,613.8L522.1,614.2L523.4,614.6L524.7,615.0L526.0,615.3L527.3,615.7L528.6,616.1L529.9,616.5L531.2,616.8L532.5,617.2L533.8,617.6L535.1,618.0L536.4,618.4L537.7,618.7L539.0,619.1L540.3,619.5L541.6,619.9L542.9,620.3L544.1,620.7L545.4,621.0L546.7,621.4L548.0,621.8L549.3,622.2L550.6,622.6L551.9,623.0L553.2,623.4L554.5,623.8L555.8,624.1L557.1,624.5L558.4,624.9L559.7,625.3L561.0,625.7L562.3,626.1L563.6,626.5L564.9,626.9L566.1,627.3L567.4,627.7L568.7,628.1L570.0,628.5L571.3,628.9L572.6,629.3L573.9,629.7L575.2,630.1L576.5,630.5L577.8,630.9L579.1,631.3L580.3,631.7L581.6,632.1L582.9,632.5L584.2,632.9L585.5,633.3L586.8,633.7L588.1,634.1L589.4,634.6L590.7,635.0L592.0,635.4L593.2,635.8L594.5,636.2L595.8,636.6L597.1,637.0L598.4,637.4L599.7,637.9L601.0,638.3L602.2,638.7L603.5,639.1L604.8,639.5L606.1,639.9L607.4,640.4L608.7,640.8L610.0,641.2L611.2,641.6L612.5,642.1L613.8,642.5L615.1,642.9L616.4,643.3L617.7,643.8L619.0,644.2L620.2,644.6L621.5,645.0L622.8,645.5L624.1,645.9L625.4,646.3L626.6,646.8L627.9,647.2L629.2,647.7L630.5,648.1L631.8,648.5L633.0,649.0L634.3,649.4L635.6,649.9L636.9,650.3L638.1,650.8L639.4,651.2L640.7,651.7L642.0,652.1L643.2,652.6L644.5,653.1L645.8,653.5L647.0,654.0L648.3,654.4L649.6,654.9L650.8,655.4L652.1,655.9L653.4,656.3L654.6,656.8L655.9,657.3L657.2,657.8L658.4,658.3L659.7,658.8L660.9,659.2L662.2,659.7L663.5,660.2L664.7,660.7L666.0,661.2L667.2,661.7L668.5,662.2L669.7,662.7L671.0,663.3L672.2,663.8L673.5,664.3L674.7,664.8L676.0,665.3L677.2,665.9L678.5,666.4L679.7,666.9L680.9,667.5L682.2,668.0L683.4,668.6L684.6,669.1L685.9,669.7L687.1,670.2L688.3,670.8L689.6,671.3L690.8,671.9L692.0,672.5L693.2,673.1L694.5,673.6L695.7,674.2L696.9,674.8L698.1,675.4L699.3,676.0L700.5,676.6L701.8,677.2L703.0,677.8L704.2,678.4L705.4,679.0L706.6,679.6L707.8,680.3L709.0,680.9L710.2,681.5L711.4,682.1L712.6,682.7L713.8,683.4L715.0,684.0L716.2,684.6L717.4,685.3L718.6,685.9L719.8,686.6L721.0,687.2L722.1,687.8L723.3,688.5L724.5,689.1L725.7,689.8L726.9,690.4L728.1,691.1L729.3,691.7L730.5,692.4L731.7,693.0L732.8,693.6L734.0,694.3L735.2,694.9L736.4,695.6L737.6,696.2L738.8,696.9L739.9,697.5L741.1,698.2L742.3,698.8L743.5,699.5L744.7,700.1L745.9,700.7L747.0,701.4L748.2,702.0L749.4,702.7L750.6,703.3L751.8,703.9L752.9,704.6L754.1,705.2L755.3,705.9L756.5,706.5L757.6,707.2L758.8,707.9L760.0,708.5L761.2,709.2L762.3,709.8L763.5,710.5L764.7,711.2L765.8,711.9L767.0,712.6L768.1,713.2L769.3,713.9L770.4,714.6L771.6,715.3L772.7,716.0L773.9,716.7L775.0,717.4L776.2,718.2L777.3,718.9L778.5,719.6L779.6,720.3L780.8,721.1L781.9,721.8L783.0,722.5L784.2,723.3L785.3,724.0L786.5,724.7L787.6,725.5L788.8,726.2L789.9,727.0L791.1,727.8L792.2,728.5L793.3,729.3L794.5,730.1L795.6,730.9L796.7,731.6L797.8,732.4L798.9,733.3L800.0,734.1L801.0,734.9L802.1,735.7L803.2,736.6L804.2,737.5L805.2,738.3L806.3,739.2L807.3,740.1L808.2,741.0L809.2,742.0L810.2,742.9L811.1,743.8L812.0,744.8L812.9,745.8L813.8,746.8L814.6,747.8L815.5,748.9L816.3,749.9L817.1,751.0L817.8,752.1L818.6,753.2L819.3,754.3L820.0,755.5L820.6,756.6L821.3,757.8L821.9,759.0L822.5,760.2L823.0,761.4L823.5,762.6L824.1,763.9L824.5,765.1L825.0,766.4L825.4,767.7L825.8,769.0L826.2,770.3L826.5,771.6L826.8,772.9L827.1,774.3L827.3,775.6L827.5,777.0L827.7,778.3L827.8,779.7L827.9,781.1L828.0,782.4L828.1,783.8L828.1,785.2L828.1,786.6L828.0,788.0" stroke="#372e8c" stroke-width="5.8"/>
<path d="M91.0,527.7L92.3,527.9L93.6,528.2L94.9,528.4L96.3,528.7L97.6,528.9L98.9,529.1L100.2,529.4L101.6,529.6L102.9,529.9L104.2,530.1L105.5,530.3L106.8,530.6L108.2,530.8L109.5,531.1L110.8,531.3L112.1,531.6L113.5,531.8L114.8,532.0L116.1,532.3L117.4,532.5L118.7,532.8L120.1,533.0L121.4,533.3L122.7,533.5L124.0,533.8L125.4,534.0L126.7,534.2L128.0,534.5L129.3,534.7L130.6,535.0L132.0,535.2L133.3,535.5L134.6,535.7L135.9,535.9L137.3,536.2L138.6,536.4L139.9,536.7L141.2,536.9L142.6,537.2L143.9,537.4L145.2,537.7L146.5,537.9L147.8,538.2L149.2,538.4L150.5,538.6L151.8,538.9L153.1,539.1L154.5,539.4L155.8,539.6L157.1,539.9L158.4,540.1L159.7,540.4L161.1,540.6L162.4,540.9L163.7,541.1L165.0,541.4L166.4,541.6L167.7,541.8L169.0,542.1L170.3,542.3L171.6,542.6L173.0,542.8L174.3,543.1L175.6,543.3L176.9,543.6L178.3,543.8L179.6,544.1L180.9,544.3L182.2,544.6L183.6,544.8L184.9,545.1L186.2,545.3L187.5,545.6L188.8,545.8L190.2,546.1L191.5,546.3L192.8,546.6L194.1,546.8L195.5,547.1L196.8,547.3L198.1,547.6L199.4,547.8L200.7,548.1L202.1,548.3L203.4,548.6L204.7,548.8L206.0,549.1L207.4,549.3L208.7,549.6L210.0,549.8L211.3,550.1L212.6,550.3L214.0,550.6L215.3,550.9L216.6,551.1L217.9,551.4L219.2,551.6L220.6,551.9L221.9,552.1L223.2,552.4L224.5,552.6L225.9,552.9L227.2,553.1L228.5,553.4L229.8,553.7L231.1,553.9L232.5,554.2L233.8,554.4L235.1,554.7L236.4,554.9L237.7,555.2L239.1,555.5L240.4,555.7L241.7,556.0L243.0,556.2L244.4,556.5L245.7,556.7L247.0,557.0L248.3,557.3L249.6,557.5L251.0,557.8L252.3,558.0L253.6,558.3L254.9,558.6L256.2,558.8L257.6,559.1L258.9,559.4L260.2,559.6L261.5,559.9L262.8,560.1L264.2,560.4L265.5,560.7L266.8,560.9L268.1,561.2L269.4,561.5L270.8,561.7L272.1,562.0L273.4,562.3L274.7,562.5L276.0,562.8L277.4,563.1L278.7,563.3L280.0,563.6L281.3,563.9L282.6,564.1L284.0,564.4L285.3,564.7L286.6,564.9L287.9,565.2L289.2,565.5L290.6,565.7L291.9,566.0L293.2,566.3L294.5,566.5L295.8,566.8L297.1,567.1L298.5,567.4L299.8,567.6L301.1,567.9L302.4,568.2L303.7,568.4L305.1,568.7L306.4,569.0L307.7,569.3L309.0,569.5L310.3,569.8L311.6,570.1L313.0,570.4L314.3,570.6L315.6,570.9L316.9,571.2L318.2,571.5L319.5,571.7L320.9,572.0L322.2,572.3L323.5,572.6L324.8,572.9L326.1,573.1L327.4,573.4L328.8,573.7L330.1,574.0L331.4,574.3L332.7,574.5L334.0,574.8L335.3,575.1L336.7,575.4L338.0,575.7L339.3,575.9L340.6,576.2L341.9,576.5L343.2,576.8L344.6,577.1L345.9,577.4L347.2,577.6L348.5,577.9L349.8,578.2L351.1,578.5L352.4,578.8L353.8,579.1L355.1,579.4L356.4,579.7L357.7,579.9L359.0,580.2L360.3,580.5L361.6,580.8L363.0,581.1L364.3,581.4L365.6,581.7L366.9,582.0L368.2,582.3L369.5,582.6L370.8,582.9L372.1,583.2L373.5,583.5L374.8,583.7L376.1,584.0L377.4,584.3L378.7,584.6L380.0,584.9L381.3,585.2L382.7,585.5L384.0,585.8L385.3,586.1L386.6,586.4L387.9,586.7L389.2,587.0L390.5,587.3L391.8,587.6L393.1,587.9L394.5,588.2L395.8,588.5L397.1,588.8L398.4,589.1L399.7,589.4L401.0,589.7L402.3,590.0L403.6,590.4L404.9,590.7L406.2,591.0L407.6,591.3L408.9,591.6L410.2,591.9L411.5,592.2L412.8,592.5L414.1,592.8L415.4,593.1L416.7,593.4L418.0,593.8L419.3,594.1L420.6,594.4L422.0,594.7L423.3,595.0L424.6,595.3L425.9,595.6L427.2,595.9L428.5,596.3L429.8,596.6L431.1,596.9L432.4,597.2L433.7,597.5L435.0,597.8L436.3,598.2L437.6,598.5L439.0,598.8L440.3,599.1L441.6,599.4L442.9,599.8L444.2,600.1L445.5,600.4L446.8,600.7L448.1,601.1L449.4,601.4L450.7,601.7L452.0,602.0L453.3,602.4L454.6,602.7L455.9,603.0L457.2,603.3L458.5,603.7L459.8,604.0L461.1,604.3L462.4,604.7L463.8,605.0L465.1,605.3L466.4,605.7L467.7,606.0L469.0,606.3L470.3,606.7L471.6,607.0L472.9,607.3L474.2,607.7L475.5,608.0L476.8,608.3L478.1,608.7L479.4,609.0L480.7,609.4L482.0,609.7L483.3,610.0L484.6,610.4L485.9,610.7L487.2,611.1L488.5,611.4L489.8,611.8L491.1,612.1L492.4,612.4L493.7,612.8L495.0,613.1L496.3,613.5L497.6,613.8L498.9,614.2L500.2,614.5L501.5,614.9L502.8,615.2L504.1,615.6L505.4,615.9L506.7,616.3L508.0,616.6L509.3,617.0L510.6,617.3L511.9,617.7L513.2,618.1L514.5,618.4L515.8,618.8L517.1,619.1L518.4,619.5L519.6,619.8L520.9,620.2L522.2,620.6L523.5,620.9L524.8,621.3L526.1,621.7L527.4,622.0L528.7,622.4L530.0,622.7L531.3,623.1L532.6,623.5L533.9,623.8L535.2,624.2L536.5,624.6L537.8,624.9L539.1,625.3L540.4,625.7L541.7,626.1L542.9,626.4L544.2,626.8L545.5,627.2L546.8,627.6L548.1,627.9L549.4,628.3L550.7,628.7L552.0,629.1L553.3,629.4L554.6,629.8L555.9,630.2L557.2,630.6L558.4,631.0L559.7,631.3L561.0,631.7L562.3,632.1L563.6,632.5L564.9,632.9L566.2,633.3L567.5,633.6L568.8,634.0L570.1,634.4L571.3,634.8L572.6,635.2L573.9,635.6L575.2,636.0L576.5,636.4L577.8,636.8L579.1,637.2L580.4,637.5L581.6,637.9L582.9,638.3L584.2,638.7L585.5,639.1L586.8,639.5L588.1,639.9L589.4,640.3L590.6,640.7L591.9,641.1L593.2,641.5L594.5,641.9L595.8,642.3L597.1,642.7L598.3,643.2L599.6,643.6L600.9,644.0L602.2,644.4L603.5,644.8L604.8,645.2L606.0,645.6L607.3,646.0L608.6,646.4L609.9,646.8L611.2,647.3L612.4,647.7L613.7,648.1L615.0,648.5L616.3,648.9L617.6,649.3L618.9,649.8L620.1,650.2L621.4,650.6L622.7,651.0L624.0,651.4L625.2,651.9L626.5,652.3L627.8,652.7L629.1,653.1L630.4,653.6L631.6,654.0L632.9,654.4L634.2,654.9L635.5,655.3L636.7,655.7L638.0,656.2L639.3,656.6L640.6,657.0L641.8,657.5L643.1,657.9L644.4,658.4L645.6,658.8L646.9,659.3L648.2,659.7L649.4,660.2L650.7,660.6L652.0,661.1L653.3,661.5L654.5,662.0L655.8,662.4L657.1,662.9L658.3,663.3L659.6,663.8L660.8,664.3L662.1,664.7L663.4,665.2L664.6,665.7L665.9,666.1L667.2,666.6L668.4,667.1L669.7,667.6L670.9,668.0L672.2,668.5L673.4,669.0L674.7,669.5L676.0,670.0L677.2,670.4L678.5,670.9L679.7,671.4L681.0,671.9L682.2,672.4L683.5,672.9L684.7,673.4L686.0,673.9L687.2,674.4L688.5,674.9L689.7,675.4L690.9,675.9L692.2,676.4L693.4,677.0L694.7,677.5L695.9,678.0L697.2,678.5L698.4,679.0L699.6,679.6L700.9,680.1L702.1,680.6L703.3,681.1L704.6,681.7L705.8,682.2L707.0,682.8L708.3,683.3L709.5,683.8L710.7,684.4L711.9,684.9L713.2,685.5L714.4,686.0L715.6,686.6L716.8,687.2L718.1,687.7L719.3,688.3L720.5,688.8L721.7,689.4L722.9,690.0L724.1,690.6L725.4,691.1L726.6,691.7L727.8,692.3L729.0,692.9L730.2,693.5L731.4,694.1L732.6,694.7L733.8,695.3L735.0,695.9L736.2,696.5L737.4,697.1L738.6,697.7L739.8,698.3L741.0,698.9L742.2,699.5L743.4,700.2L744.6,700.8L745.8,701.4L747.0,702.0L748.2,702.7L749.4,703.3L750.5,704.0L751.7,704.6L752.9,705.2L754.1,705.9L755.3,706.5L756.4,707.2L757.6,707.9L758.8,708.5L759.9,709.2L761.1,709.8L762.3,710.5L763.4,711.2L764.6,711.9L765.8,712.6L766.9,713.2L768.1,713.9L769.2,714.6L770.4,715.3L771.5,716.0L772.7,716.7L773.8,717.4L775.0,718.1L776.1,718.8L777.2,719.5L778.4,720.2L779.5,721.0L780.7,721.7L781.8,722.4L782.9,723.1L784.1,723.8L785.2,724.6L786.4,725.3L787.5,726.1L788.6,726.8L789.8,727.5L790.9,728.3L792.0,729.1L793.2,729.8L794.3,730.6L795.4,731.4L796.5,732.2L797.6,732.9L798.7,733.7L799.8,734.6L800.9,735.4L801.9,736.2L803.0,737.1L804.0,737.9L805.0,738.8L806.1,739.6L807.1,740.5L808.0,741.4L809.0,742.4L810.0,743.3L810.9,744.2L811.8,745.2L812.7,746.2L813.6,747.2L814.5,748.2L815.3,749.2L816.1,750.2L816.9,751.3L817.7,752.4L818.4,753.4L819.2,754.6L819.9,755.7L820.5,756.8L821.2,758.0L821.8,759.2L822.4,760.4L823.0,761.6L823.5,762.8L824.0,764.0L824.5,765.3L825.0,766.5L825.4,767.8L825.8,769.1L826.2,770.4L826.5,771.7L826.8,773.0L827.1,774.3L827.4,775.6L827.6,777.0L827.7,778.3L827.9,779.7L828.0,781.1L828.1,782.4L828.1,783.8L828.1,785.2L828.1,786.6L828.0,788.0" stroke="#1f7d45" stroke-width="5.8"/>
<line x1="91" y1="524.8" x2="335" y2="524.8" stroke="#f2ab48" stroke-width="3.3"/>
<path d="M91.0,471.7L92.3,472.0L93.7,472.2L95.1,472.5L96.4,472.8L97.8,473.1L99.2,473.4L100.5,473.7L101.9,474.0L103.3,474.3L104.6,474.5L106.0,474.8L107.4,475.1L108.7,475.4L110.1,475.7L111.4,476.0L112.8,476.3L114.2,476.6L115.5,476.9L116.9,477.2L118.3,477.5L119.6,477.8L121.0,478.1L122.4,478.4L123.7,478.7L125.1,478.9L126.5,479.2L127.8,479.5L129.2,479.8L130.5,480.1L131.9,480.4L133.3,480.7L134.6,481.0L136.0,481.3L137.4,481.6L138.7,481.9L140.1,482.2L141.4,482.5L142.8,482.9L144.2,483.2L145.5,483.5L146.9,483.8L148.2,484.1L149.6,484.4L151.0,484.7L152.3,485.0L153.7,485.3L155.1,485.6L156.4,485.9L157.8,486.2L159.1,486.5L160.5,486.8L161.9,487.1L163.2,487.5L164.6,487.8L165.9,488.1L167.3,488.4L168.7,488.7L170.0,489.0L171.4,489.3L172.7,489.6L174.1,490.0L175.5,490.3L176.8,490.6L178.2,490.9L179.5,491.2L180.9,491.5L182.2,491.8L183.6,492.2L185.0,492.5L186.3,492.8L187.7,493.1L189.0,493.4L190.4,493.8L191.8,494.1L193.1,494.4L194.5,494.7L195.8,495.0L197.2,495.4L198.5,495.7L199.9,496.0L201.3,496.3L202.6,496.7L204.0,497.0L205.3,497.3L206.7,497.6L208.0,498.0L209.4,498.3L210.7,498.6L212.1,498.9L213.5,499.3L214.8,499.6L216.2,499.9L217.5,500.3L218.9,500.6L220.2,500.9L221.6,501.2L223.0,501.6L224.3,501.9L225.7,502.2L227.0,502.6L228.4,502.9L229.7,503.2L231.1,503.6L232.4,503.9L233.8,504.2L235.1,504.6L236.5,504.9L237.8,505.3L239.2,505.6L240.6,505.9L241.9,506.3L243.3,506.6L244.6,506.9L246.0,507.3L247.3,507.6L248.7,508.0L250.0,508.3L251.4,508.6L252.7,509.0L254.1,509.3L255.4,509.7L256.8,510.0L258.1,510.3L259.5,510.7L260.8,511.0L262.2,511.4L263.6,511.7L264.9,512.1L266.3,512.4L267.6,512.8L269.0,513.1L270.3,513.5L271.7,513.8L273.0,514.2L274.4,514.5L275.7,514.9L277.1,515.2L278.4,515.6L279.8,515.9L281.1,516.3L282.5,516.6L283.8,517.0L285.2,517.3L286.5,517.7L287.9,518.0L289.2,518.4L290.6,518.7L291.9,519.1L293.3,519.4L294.6,519.8L296.0,520.1L297.3,520.5L298.7,520.9L300.0,521.2L301.4,521.6L302.7,521.9L304.0,522.3L305.4,522.6L306.7,523.0L308.1,523.4L309.4,523.7L310.8,524.1L312.1,524.4L313.5,524.8L314.8,525.2L316.2,525.5L317.5,525.9" stroke="#9fd2d2" stroke-width="2.6" stroke-dasharray="8.5 14.8"/>
<path d="M91.0,465.1L92.3,465.4L93.7,465.7L95.1,466.0L96.4,466.3L97.8,466.6L99.2,466.8L100.6,467.1L101.9,467.4L103.3,467.7L104.7,468.0L106.0,468.3L107.4,468.6L108.8,468.9L110.1,469.2L111.5,469.5L112.9,469.8L114.2,470.1L115.6,470.4L117.0,470.7L118.3,471.0L119.7,471.3L121.1,471.6L122.4,471.9L123.8,472.3L125.2,472.6L126.6,472.9L127.9,473.2L129.3,473.5L130.7,473.8L132.0,474.1L133.4,474.4L134.8,474.7L136.1,475.0L137.5,475.3L138.9,475.6L140.2,475.9L141.6,476.2L143.0,476.5L144.3,476.9L145.7,477.2L147.1,477.5L148.4,477.8L149.8,478.1L151.1,478.4L152.5,478.7L153.9,479.0L155.2,479.4L156.6,479.7L158.0,480.0L159.3,480.3L160.7,480.6L162.1,480.9L163.4,481.2L164.8,481.6L166.2,481.9L167.5,482.2L168.9,482.5L170.3,482.8L171.6,483.1L173.0,483.5L174.3,483.8L175.7,484.1L177.1,484.4L178.4,484.7L179.8,485.1L181.2,485.4L182.5,485.7L183.9,486.0L185.3,486.4L186.6,486.7L188.0,487.0L189.3,487.3L190.7,487.7L192.1,488.0L193.4,488.3L194.8,488.6L196.2,489.0L197.5,489.3L198.9,489.6L200.2,489.9L201.6,490.3L203.0,490.6L204.3,490.9L205.7,491.3L207.0,491.6L208.4,491.9L209.8,492.2L211.1,492.6L212.5,492.9L213.9,493.2L215.2,493.6L216.6,493.9L217.9,494.2L219.3,494.6L220.7,494.9L222.0,495.2L223.4,495.6L224.7,495.9L226.1,496.3L227.5,496.6L228.8,496.9L230.2,497.3L231.5,497.6L232.9,497.9L234.3,498.3L235.6,498.6L237.0,499.0L238.3,499.3L239.7,499.6L241.0,500.0L242.4,500.3L243.8,500.7L245.1,501.0L246.5,501.4L247.8,501.7L249.2,502.0L250.6,502.4L251.9,502.7L253.3,503.1L254.6,503.4L256.0,503.8L257.3,504.1L258.7,504.5L260.1,504.8L261.4,505.2L262.8,505.5L264.1,505.9L265.5,506.2L266.8,506.6L268.2,506.9L269.5,507.3L270.9,507.6L272.3,508.0L273.6,508.3L275.0,508.7L276.3,509.0L277.7,509.4L279.0,509.7L280.4,510.1L281.7,510.4L283.1,510.8L284.5,511.1L285.8,511.5L287.2,511.9L288.5,512.2L289.9,512.6L291.2,512.9L292.6,513.3L293.9,513.7L295.3,514.0L296.6,514.4L298.0,514.7L299.3,515.1L300.7,515.5L302.1,515.8L303.4,516.2L304.8,516.5L306.1,516.9L307.5,517.3L308.8,517.6L310.2,518.0L311.5,518.4L312.9,518.7L314.2,519.1L315.6,519.5L316.9,519.8L318.3,520.2L319.6,520.6L321.0,520.9L322.3,521.3L323.7,521.7L325.0,522.0L326.4,522.4L327.7,522.8L329.1,523.2L330.4,523.5L331.8,523.9L333.1,524.3L334.5,524.7L335.8,525.0L337.2,525.4L338.5,525.8L339.9,526.2" stroke="#d5453a" stroke-width="3.2" stroke-dasharray="8.5 14.8"/>
<path d="M91.0,500.2L92.3,500.5L93.7,500.7L95.0,501.0L96.3,501.3L97.7,501.5L99.0,501.8L100.4,502.1L101.7,502.3L103.1,502.6L104.4,502.8L105.8,503.1L107.1,503.4L108.4,503.6L109.8,503.9L111.1,504.2L112.5,504.4L113.8,504.7L115.2,505.0L116.5,505.2L117.8,505.5L119.2,505.8L120.5,506.0L121.9,506.3L123.2,506.6L124.6,506.8L125.9,507.1L127.2,507.4L128.6,507.6L129.9,507.9L131.3,508.2L132.6,508.4L134.0,508.7L135.3,509.0L136.6,509.2L138.0,509.5L139.3,509.8L140.7,510.1L142.0,510.3L143.4,510.6L144.7,510.9L146.0,511.1L147.4,511.4L148.7,511.7L150.1,512.0L151.4,512.2L152.7,512.5L154.1,512.8L155.4,513.1L156.8,513.3L158.1,513.6L159.5,513.9L160.8,514.2L162.1,514.4L163.5,514.7L164.8,515.0L166.2,515.3L167.5,515.5L168.8,515.8L170.2,516.1L171.5,516.4L172.9,516.7L174.2,516.9L175.5,517.2L176.9,517.5L178.2,517.8L179.6,518.0L180.9,518.3L182.2,518.6L183.6,518.9L184.9,519.2L186.3,519.5L187.6,519.7L188.9,520.0L190.3,520.3L191.6,520.6L193.0,520.9L194.3,521.1L195.6,521.4L197.0,521.7L198.3,522.0L199.7,522.3L201.0,522.6L202.3,522.9L203.7,523.1L205.0,523.4L206.4,523.7L207.7,524.0L209.0,524.3L210.4,524.6L211.7,524.9L213.1,525.1L214.4,525.4L215.7,525.7L217.1,526.0" stroke="#74a85c" stroke-width="3.2" stroke-dasharray="8 15.2"/>
<path d="M91.0,517.8L92.3,518.0L93.6,518.3L95.0,518.5L96.3,518.8L97.6,519.0L98.9,519.3L100.3,519.5L101.6,519.8L102.9,520.0L104.2,520.3L105.6,520.5L106.9,520.8L108.2,521.0L109.6,521.3L110.9,521.5L112.2,521.8L113.5,522.0L114.9,522.3L116.2,522.5L117.5,522.8L118.8,523.0L120.2,523.3L121.5,523.6L122.8,523.8L124.2,524.1L125.5,524.3L126.8,524.6L128.1,524.8L129.5,525.1L130.8,525.3L132.1,525.6L133.5,525.8L134.8,526.1" stroke="#3d3590" stroke-width="3.2" stroke-dasharray="9 9.7"/>
</g>
<g fill="#111" stroke="#111" stroke-width="0.25" font-size="32.5">
<text x="52.9" y="299.3" textLength="29.8" lengthAdjust="spacingAndGlyphs">45</text>
<text x="52.9" y="355.3" textLength="29.8" lengthAdjust="spacingAndGlyphs">40</text>
<text x="52.9" y="410.3" textLength="29.8" lengthAdjust="spacingAndGlyphs">35</text>
<text x="52.9" y="465.3" textLength="29.8" lengthAdjust="spacingAndGlyphs">30</text>
<text x="52.9" y="520.3" textLength="29.8" lengthAdjust="spacingAndGlyphs">25</text>
<text x="52.9" y="575.3" textLength="29.8" lengthAdjust="spacingAndGlyphs">20</text>
<text x="55.2" y="629.7" textLength="27.7" lengthAdjust="spacingAndGlyphs">15</text>
<text x="55.2" y="686.7" textLength="25.3" lengthAdjust="spacingAndGlyphs">10</text>
<text x="64.0" y="739.9" textLength="16.5" lengthAdjust="spacingAndGlyphs">5</text>
<text x="70.4" y="807.9" textLength="14.1" lengthAdjust="spacingAndGlyphs">0</text>
<text x="160.7" y="820.3" textLength="28" lengthAdjust="spacingAndGlyphs">10</text>
<text x="247.5" y="820.3" textLength="28" lengthAdjust="spacingAndGlyphs">20</text>
<text x="334.4" y="820.3" textLength="28" lengthAdjust="spacingAndGlyphs">30</text>
<text x="421.2" y="820.3" textLength="28" lengthAdjust="spacingAndGlyphs">40</text>
<text x="508.1" y="820.3" textLength="28" lengthAdjust="spacingAndGlyphs">50</text>
<text x="595.0" y="820.3" textLength="28" lengthAdjust="spacingAndGlyphs">60</text>
<text x="681.8" y="820.3" textLength="28" lengthAdjust="spacingAndGlyphs">70</text>
<text x="768.7" y="820.3" textLength="28" lengthAdjust="spacingAndGlyphs">80</text>
<text x="811.9" y="820.3" textLength="28.7" lengthAdjust="spacingAndGlyphs">85</text>
</g>
<text x="504.5" y="885.5" font-size="29" fill="#231f20" stroke="#fff" stroke-width="0.4" textLength="355" lengthAdjust="spacing">Umgebungstemperatur in  °C</text>
<g font-size="28" stroke="#fff" stroke-width="0.35">
<text x="87.5" y="969.9" textLength="279" lengthAdjust="spacing"><tspan fill="#d2434e">2-,</tspan> <tspan fill="#8cc9c9">4-,</tspan> <tspan fill="#6aac52">6-,</tspan> <tspan fill="#38347e">12-,</tspan> <tspan fill="#2c7a50">24-</tspan><tspan fill="#231f20">polig</tspan></text>
<line x1="511" y1="959" x2="577" y2="959" stroke="#eb9d30" stroke-width="6"/>
<text x="589" y="966" fill="#231f20" textLength="275" lengthAdjust="spacing">Leiterbemessungsstrom</text>
</g>
</svg></body></html>
